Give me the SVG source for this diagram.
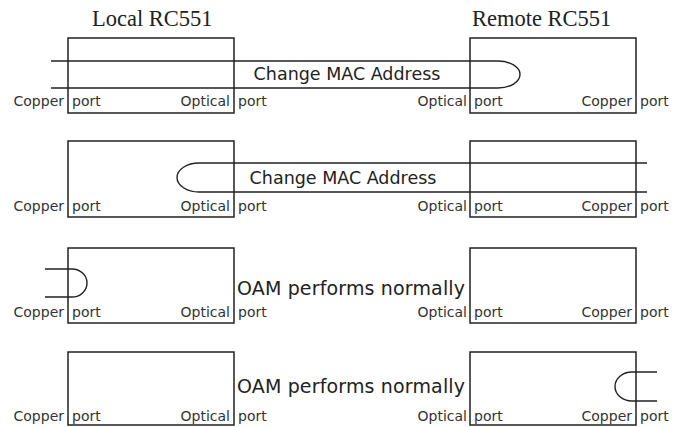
<svg xmlns="http://www.w3.org/2000/svg" width="673" height="427" viewBox="0 0 673 427">
<style>
.box{fill:none;stroke:#222;stroke-width:1.5}
.link{fill:none;stroke:#222;stroke-width:1.4}
.title{font-family:"Liberation Serif",serif;font-size:22.5px;fill:#222}
.lbl{font-family:"DejaVu Sans",Verdana,sans-serif;font-size:14px;fill:#333}
.msg{font-family:"DejaVu Sans",Verdana,sans-serif;font-size:17.5px;fill:#222}
.oam{font-family:"DejaVu Sans",Verdana,sans-serif;font-size:19px;fill:#222}
.e{text-anchor:end}
</style>
<rect width="673" height="427" fill="#fff"/>
<text class="title" x="92" y="26">Local RC551</text>
<text class="title" x="472" y="26">Remote RC551</text>

<g id="row1-local"><rect class="box" x="68" y="38" width="166" height="75"/>
<text class="lbl e" x="64" y="106">Copper</text><text class="lbl" x="72" y="106">port</text>
<text class="lbl e" x="230" y="106">Optical</text><text class="lbl" x="238" y="106">port</text></g>
<g id="row1-remote"><rect class="box" x="470" y="38" width="166" height="75"/>
<text class="lbl e" x="467" y="106">Optical</text><text class="lbl" x="474" y="106">port</text>
<text class="lbl e" x="632" y="106">Copper</text><text class="lbl" x="640" y="106">port</text></g>

<g id="row2-local"><rect class="box" x="68" y="141" width="166" height="76"/>
<text class="lbl e" x="64" y="211">Copper</text><text class="lbl" x="72" y="211">port</text>
<text class="lbl e" x="230" y="211">Optical</text><text class="lbl" x="238" y="211">port</text></g>
<g id="row2-remote"><rect class="box" x="470" y="141" width="166" height="76"/>
<text class="lbl e" x="467" y="211">Optical</text><text class="lbl" x="474" y="211">port</text>
<text class="lbl e" x="632" y="211">Copper</text><text class="lbl" x="640" y="211">port</text></g>

<g id="row3-local"><rect class="box" x="68" y="248" width="166" height="75"/>
<text class="lbl e" x="64" y="317">Copper</text><text class="lbl" x="72" y="317">port</text>
<text class="lbl e" x="230" y="317">Optical</text><text class="lbl" x="238" y="317">port</text></g>
<g id="row3-remote"><rect class="box" x="470" y="248" width="166" height="75"/>
<text class="lbl e" x="467" y="317">Optical</text><text class="lbl" x="474" y="317">port</text>
<text class="lbl e" x="632" y="317">Copper</text><text class="lbl" x="640" y="317">port</text></g>

<g id="row4-local"><rect class="box" x="68" y="352" width="166" height="73"/>
<text class="lbl e" x="64" y="421">Copper</text><text class="lbl" x="72" y="421">port</text>
<text class="lbl e" x="230" y="421">Optical</text><text class="lbl" x="238" y="421">port</text></g>
<g id="row4-remote"><rect class="box" x="470" y="352" width="166" height="73"/>
<text class="lbl e" x="467" y="421">Optical</text><text class="lbl" x="474" y="421">port</text>
<text class="lbl e" x="632" y="421">Copper</text><text class="lbl" x="640" y="421">port</text></g>

<g id="connectors">
<path class="link" d="M51 61 H498 A22 13.5 0 0 1 498 88 H51"/>
<path class="link" d="M647 163 H199 A22 14.5 0 0 0 199 192 H647"/>
<path class="link" d="M45 269 H72 A15 14 0 0 1 72 297 H45"/>
<path class="link" d="M657 372 H632 A17 14.5 0 0 0 632 401 H657"/>
</g>

<text class="msg" x="347" y="80" text-anchor="middle">Change MAC Address</text>
<text class="msg" x="343" y="184" text-anchor="middle">Change MAC Address</text>
<text class="oam" x="237" y="295" textLength="228">OAM performs normally</text>
<text class="oam" x="237" y="393" textLength="228">OAM performs normally</text>
</svg>
